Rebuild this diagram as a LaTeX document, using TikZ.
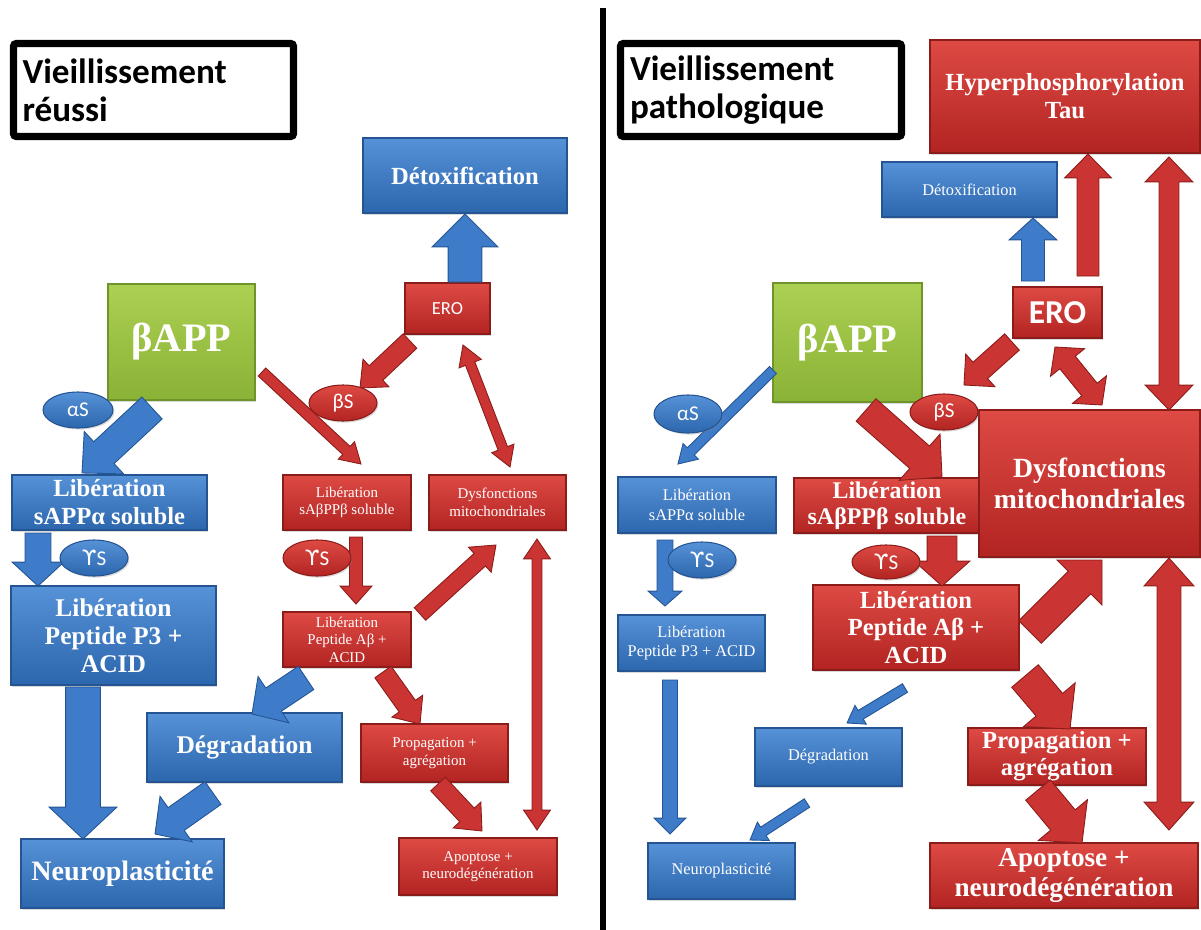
\documentclass[tikz,border=0pt]{standalone}
\usepackage{fontspec}
\setmainfont{Liberation Serif}
\newfontfamily\calfont{Carlito}
\newfontfamily\dvfont{DejaVu Sans}
\usetikzlibrary{calc,shapes.geometric,shadows}
\definecolor{blueT}{RGB}{86,146,216}
\definecolor{blueB}{RGB}{44,102,172}
\definecolor{blueD}{RGB}{36,84,146}
\definecolor{redT}{RGB}{222,74,68}
\definecolor{redB}{RGB}{178,36,34}
\definecolor{redD}{RGB}{138,28,26}
\definecolor{greenT}{RGB}{172,208,82}
\definecolor{greenB}{RGB}{138,178,54}
\definecolor{greenD}{RGB}{112,148,44}
\definecolor{arrB}{RGB}{62,124,202}
\definecolor{arrR}{RGB}{202,52,50}
\newcommand\fsz[2]{\fontsize{#1}{#2}\selectfont}
\newcommand\ups{{\dvfont ϒ}}
% block arrow: style, from, to, shaft width px, head width px, head length px
\newcommand\blockarr[6]{%
 \path[#1] let \p1=(#2), \p2=(#3), \n1={atan2(\y2-\y1,\x2-\x1)}, \n3={#4*0.2835}, \n4={#5*0.2835}, \n5={#6*0.567} in
 ($(\p1)+(\n1+90:\n3 pt)$) -- ($(\p2)+(\n1+180:\n5 pt)+(\n1+90:\n3 pt)$) -- ($(\p2)+(\n1+180:\n5 pt)+(\n1+90:\n4 pt)$) -- (\p2) -- ($(\p2)+(\n1+180:\n5 pt)+(\n1-90:\n4 pt)$) -- ($(\p2)+(\n1+180:\n5 pt)+(\n1-90:\n3 pt)$) -- ($(\p1)+(\n1-90:\n3 pt)$) -- cycle;}
\newcommand\dblarr[6]{%
 \path[#1] let \p1=(#2), \p2=(#3), \n1={atan2(\y2-\y1,\x2-\x1)}, \n3={#4*0.2835}, \n4={#5*0.2835}, \n5={#6*0.567} in
 ($(\p1)+(\n1:\n5 pt)+(\n1+90:\n3 pt)$) -- ($(\p2)+(\n1+180:\n5 pt)+(\n1+90:\n3 pt)$) -- ($(\p2)+(\n1+180:\n5 pt)+(\n1+90:\n4 pt)$) -- (\p2) -- ($(\p2)+(\n1+180:\n5 pt)+(\n1-90:\n4 pt)$) -- ($(\p2)+(\n1+180:\n5 pt)+(\n1-90:\n3 pt)$) -- ($(\p1)+(\n1:\n5 pt)+(\n1-90:\n3 pt)$) -- ($(\p1)+(\n1:\n5 pt)+(\n1-90:\n4 pt)$) -- (\p1) -- ($(\p1)+(\n1:\n5 pt)+(\n1+90:\n4 pt)$) -- cycle;}
\tikzset{
 bx/.style={inner sep=1pt, text=white, align=center, line width=0.6pt, drop shadow={opacity=0.3, shadow xshift=0.8pt, shadow yshift=-0.9pt}},
 bbox/.style={bx, top color=blueT, bottom color=blueB, draw=blueD},
 rbox/.style={bx, top color=redT, bottom color=redB, draw=redD},
 gbox/.style={bx, top color=greenT, bottom color=greenB, draw=greenD},
 sz/.style 2 args={minimum width=#1*0.02cm, minimum height=#2*0.02cm},
 bel/.style={ellipse, bbox, inner sep=0pt, font={\calfont\fsz{12}{14}}},
 rel/.style={ellipse, rbox, inner sep=0pt, font={\calfont\fsz{12}{14}}},
 barr/.style={fill=arrB, draw=blueD, line width=0.5pt},
 rarr/.style={fill=arrR, draw=redD, line width=0.5pt},
 ttl/.style={draw=black, line width=4pt, rounded corners=1.5pt, align=left, inner xsep=0pt, text width=262*0.02cm, font={\calfont\bfseries\fsz{20}{21.5}}},
 sbig/.style={font={\bfseries\fsz{14}{16}}},
 ssmall/.style={font={\fsz{8.5}{10}}},
 smid/.style={font={\fsz{9.3}{11}}}
}
\begin{document}
\begin{tikzpicture}[x=0.02cm,y=-0.02cm]
\useasboundingbox (0,0) rectangle (1201,930);
% divider
\coordinate (dtop) at (603,8); \coordinate (dbot) at (603,930);
\draw[line width=3.4pt] (dtop) -- (dbot);
% ================= LEFT PANEL =================
\node[ttl, sz={280}{93}] (titleL) at (153.5,90) {Vieillissement\\réussi};
\node[bbox, sz={204}{75}, sbig] (detoxL) at (465,175.5) {Détoxification};
\node[rbox, sz={85}{51}, font={\calfont\fsz{10.5}{12}}] (eroL) at (447.5,308.5) {ERO};
\node[gbox, sz={147}{116}, font={\bfseries\fsz{23}{26}}] (bappL) at (181.5,342) {βAPP};
\node[bbox, sz={195}{55}, sbig] (libaL) at (109.5,502.5) {Libération\\sAPPα soluble};
\node[bbox, sz={205}{99}, font={\bfseries\fsz{14.5}{16}}] (p3L) at (113.5,635.5) {Libération\\Peptide P3 +\\ACID};
\node[bbox, sz={195}{69}, font={\bfseries\fsz{14.5}{16}}] (degL) at (244.5,747.5) {Dégradation};
\node[bbox, sz={203}{69}, font={\bfseries\fsz{16}{18}}] (neuroL) at (122.5,873.5) {Neuroplasticité};
\node[rbox, sz={128}{55}, ssmall] (libbL) at (347,502.5) {Libération\\sAβPPβ soluble};
\node[rbox, sz={137}{55}, ssmall] (dysL) at (497.5,502.5) {Dysfonctions\\mitochondriales};
\node[rbox, sz={128}{55}, ssmall] (abL) at (347,639.5) {Libération\\Peptide Aβ +\\ACID};
\node[rbox, sz={147}{58}, ssmall] (propL) at (434.5,753) {Propagation +\\agrégation};
\node[rbox, sz={158}{57}, ssmall] (apopL) at (478,866.5) {Apoptose +\\neurodégénération};
% left arrows
\coordinate (b1s) at (465,282); \coordinate (b1e) at (465,214);
\coordinate (b2s) at (152,408); \coordinate (b2e) at (82,473);
\coordinate (b3s) at (38,533); \coordinate (b3e) at (38,586);
\coordinate (b4s) at (83,687); \coordinate (b4e) at (83,839);
\coordinate (b5s) at (306,678); \coordinate (b5e) at (252,714);
\coordinate (b6s) at (213,793); \coordinate (b6e) at (155,834);
\coordinate (r1s) at (410,341); \coordinate (r1e) at (360,388);
\coordinate (r2s) at (262,372); \coordinate (r2e) at (361,464);
\coordinate (r3s) at (463,345); \coordinate (r3e) at (510,467);
\coordinate (r4s) at (356,537); \coordinate (r4e) at (356,604);
\coordinate (r5s) at (420,614); \coordinate (r5e) at (496,545);
\coordinate (r6s) at (383,672); \coordinate (r6e) at (420,724);
\coordinate (r7s) at (438,784); \coordinate (r7e) at (482,831);
\coordinate (r8s) at (537,539); \coordinate (r8e) at (537,830);
\blockarr{barr}{b1s}{b1e}{34}{66}{33}
\blockarr{barr}{b2s}{b2e}{30}{58}{30}
\blockarr{barr}{b3s}{b3e}{26}{52}{24}
\blockarr{barr}{b4s}{b4e}{35}{68}{32}
\blockarr{barr}{b5s}{b5e}{28}{56}{26}
\blockarr{barr}{b6s}{b6e}{28}{56}{26}
\blockarr{rarr}{r1s}{r1e}{20}{38}{22}
\dblarr{rarr}{r3s}{r3e}{10}{24}{20}
\blockarr{rarr}{r4s}{r4e}{13}{32}{18}
\blockarr{rarr}{r5s}{r5e}{17}{34}{22}
\blockarr{rarr}{r6s}{r6e}{20}{38}{22}
\blockarr{rarr}{r7s}{r7e}{20}{38}{22}
\dblarr{rarr}{r8s}{r8e}{10}{27}{20}
% left ellipses
\node[bel, sz={70}{36}] (alphaL) at (78,410) {αS};
\node[bel, sz={68}{36}] (gammaL) at (94,558) {\ups S};
\node[rel, sz={68}{36}] (betaL) at (343,403) {βS};
\node[rel, sz={68}{36}] (gammaLr) at (317,558) {\ups S};
\blockarr{rarr}{r2s}{r2e}{11}{24}{20}
% ================= RIGHT PANEL =================
\node[ttl, sz={281}{93}] (titleR) at (761,90) {Vieillissement\\pathologique};
\node[rbox, sz={270}{113}, sbig] (hyper) at (1065,96.5) {Hyperphosphorylation\\Tau};
\node[bbox, sz={175}{55}, smid] (detoxR) at (969.5,189.5) {Détoxification};
\node[rbox, sz={89}{51}, font={\calfont\bfseries\fsz{19}{21}}] (eroR) at (1057.5,312.5) {ERO};
\node[gbox, sz={149}{119}, font={\bfseries\fsz{23}{26}}] (bappR) at (847.5,342.5) {βAPP};
\node[bbox, sz={158}{56}, smid] (libaR) at (697,505) {Libération\\sAPPα soluble};
\node[bbox, sz={147}{56}, smid] (p3R) at (691.5,643) {Libération\\Peptide P3 + ACID};
\node[bbox, sz={147}{58}, smid] (degR) at (828.5,757) {Dégradation};
\node[bbox, sz={147}{56}, smid] (neuroR) at (721.5,871) {Neuroplasticité};
\node[rbox, sz={186}{55}, font={\bfseries\fsz{13.6}{15}}] (libbR) at (887,505.5) {Libération\\sAβPPβ soluble};
\node[rbox, sz={221}{147}, font={\bfseries\fsz{15.8}{18}}] (dysR) at (1089.5,483.5) {Dysfonctions\\mitochondriales};
\node[rbox, sz={206}{85}, font={\bfseries\fsz{14}{15.5}}] (abR) at (916,627.5) {Libération\\Peptide Aβ +\\ACID};
\node[rbox, sz={178}{57}, font={\bfseries\fsz{14}{15.5}}] (propR) at (1057,756.5) {Propagation +\\agrégation};
\node[rbox, sz={268}{65}, font={\bfseries\fsz{15.5}{17}}] (apopR) at (1064,875.5) {Apoptose +\\neurodégénération};
% right arrows
\coordinate (b7s) at (1033,281); \coordinate (b7e) at (1033,218);
\coordinate (b8s) at (773,370); \coordinate (b8e) at (678,464);
\coordinate (b9s) at (665,540); \coordinate (b9e) at (665,606);
\coordinate (b10s) at (670,680); \coordinate (b10e) at (670,834);
\coordinate (b11s) at (905,688); \coordinate (b11e) at (847,723);
\coordinate (b12s) at (807,803); \coordinate (b12e) at (750,840);
\coordinate (r9s) at (1088,276); \coordinate (r9e) at (1088,154);
\coordinate (r10s) at (1012,342); \coordinate (r10e) at (964,385);
\coordinate (r11s) at (1055,347); \coordinate (r11e) at (1102,405);
\coordinate (r12s) at (1169,157); \coordinate (r12e) at (1169,410);
\coordinate (r13s) at (866,410); \coordinate (r13e) at (942,477);
\coordinate (r14s) at (942,536); \coordinate (r14e) at (942,586);
\coordinate (r15s) at (1030,632); \coordinate (r15e) at (1102,560);
\coordinate (r16s) at (1025,676); \coordinate (r16e) at (1070,729);
\coordinate (r17s) at (1038,790); \coordinate (r17e) at (1082,843);
\coordinate (r18s) at (1169,558); \coordinate (r18e) at (1169,830);
\blockarr{barr}{b7s}{b7e}{23}{48}{22}
\blockarr{barr}{b8s}{b8e}{10}{22}{18}
\blockarr{barr}{b9s}{b9e}{16}{34}{15}
\blockarr{barr}{b10s}{b10e}{15}{32}{16}
\blockarr{barr}{b11s}{b11e}{10}{22}{16}
\blockarr{barr}{b12s}{b12e}{10}{22}{16}
\blockarr{rarr}{r9s}{r9e}{22}{47}{24}
\blockarr{rarr}{r10s}{r10e}{22}{44}{22}
\dblarr{rarr}{r11s}{r11e}{20}{44}{20}
\dblarr{rarr}{r12s}{r12e}{20}{48}{25}
\blockarr{rarr}{r13s}{r13e}{30}{62}{30}
\blockarr{rarr}{r14s}{r14e}{30}{56}{25}
\blockarr{rarr}{r15s}{r15e}{32}{64}{32}
\blockarr{rarr}{r16s}{r16e}{35}{68}{32}
\blockarr{rarr}{r17s}{r17e}{32}{64}{30}
\dblarr{rarr}{r18s}{r18e}{24}{50}{28}
% right ellipses
\node[bel, sz={68}{38}] (alphaR) at (688,414) {αS};
\node[bel, sz={68}{36}] (gammaR) at (702,560) {\ups S};
\node[rel, sz={68}{36}] (betaR) at (944,412) {βS};
\node[rel, sz={68}{34}] (gammaRr) at (886,562) {\ups S};
\end{tikzpicture}
\end{document}
